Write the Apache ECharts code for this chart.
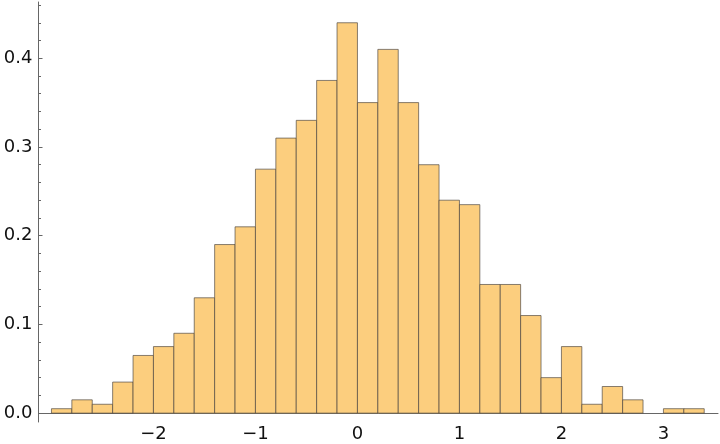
<!DOCTYPE html>
<html>
<head>
<meta charset="utf-8">
<script src="https://cdn.jsdelivr.net/npm/echarts@6/dist/echarts.min.js"></script>
<style>html,body{margin:0;padding:0;background:#fff;}#c{width:720px;height:444px;}</style>
</head>
<body>
<div id="c"></div>
<script>
// Bin edges (left edge of each bin), bin width 0.2
const binStarts = [-3.0,-2.8,-2.6,-2.4,-2.2,-2.0,-1.8,-1.6,-1.4,-1.2,-1.0,-0.8,-0.6,-0.4,-0.2,0.0,0.2,0.4,0.6,0.8,1.0,1.2,1.4,1.6,1.8,2.0,2.2,2.4,2.6,2.8,3.0,3.2];
const binWidth = 0.2;
// Density per bin
const densities = [0.005,0.015,0.010,0.035,0.065,0.075,0.090,0.130,0.190,0.210,0.275,0.310,0.330,0.375,0.440,0.350,0.410,0.350,0.280,0.240,0.235,0.145,0.145,0.110,0.040,0.075,0.010,0.030,0.015,0.000,0.005,0.005];
const xTickLabels = [-2,-1,0,1,2,3];
const yMajorTicks = [0,0.1,0.2,0.3,0.4];
const yMinorTicks = [0.02,0.04,0.06,0.08,0.12,0.14,0.16,0.18,0.22,0.24,0.26,0.28,0.32,0.34,0.36,0.38,0.42,0.44,0.46];

const data = binStarts.map((s,i)=>[s, s+binWidth, densities[i]]).filter(d=>d[2]>0);

const axisColor = '#666666';
const labelStyle = {color:'#111', fontSize:18, fontFamily:'DejaVu Sans'};
const fmt = v => {
  if (Math.abs(v) < 1e-9) return '0';
  return (v<0 ? '\u2212' : '') + Math.abs(v);
};

const chart = echarts.init(document.getElementById('c'), null, {renderer:'canvas'});
chart.setOption({
  animation:false,
  grid:{left:38.5, right:2, top:2, bottom:22, containLabel:false, outerBoundsMode:'none'},
  xAxis:{
    type:'value', min:-3.127, max:3.535,
    splitLine:{show:false},
    axisLine:{show:true, onZero:true, lineStyle:{color:axisColor, width:1}},
    axisTick:{show:false},
    axisLabel:{customValues:xTickLabels, formatter:fmt, margin:3, ...labelStyle}
  },
  yAxis:[{
    type:'value', min:-0.01, max:0.4634,
    splitLine:{show:false},
    axisLine:{show:true, onZero:false, lineStyle:{color:axisColor, width:1}},
    axisTick:{show:true, inside:true, length:4, customValues:yMajorTicks, lineStyle:{color:axisColor}},
    axisLabel:{customValues:yMajorTicks, formatter:v=>v.toFixed(1), margin:6, ...labelStyle}
  },{
    type:'value', min:-0.01, max:0.4634, position:'left',
    splitLine:{show:false},
    axisLine:{show:false, onZero:false},
    axisTick:{show:true, inside:true, length:2.5, customValues:yMinorTicks, lineStyle:{color:axisColor}},
    axisLabel:{show:false}
  }],
  series:[{
    type:'custom',
    yAxisIndex:0,
    data:data,
    encode:{x:[0,1], y:2},
    renderItem:function(params, api){
      const p0 = api.coord([api.value(0), api.value(2)]);
      const p1 = api.coord([api.value(1), 0]);
      return {
        type:'rect',
        shape:{x:p0[0], y:p0[1], width:p1[0]-p0[0], height:p1[1]-p0[1]},
        style:{fill:'#FCCE7E', stroke:'rgba(70,65,60,0.65)', lineWidth:1}
      };
    }
  }]
});
</script>
</body>
</html>
